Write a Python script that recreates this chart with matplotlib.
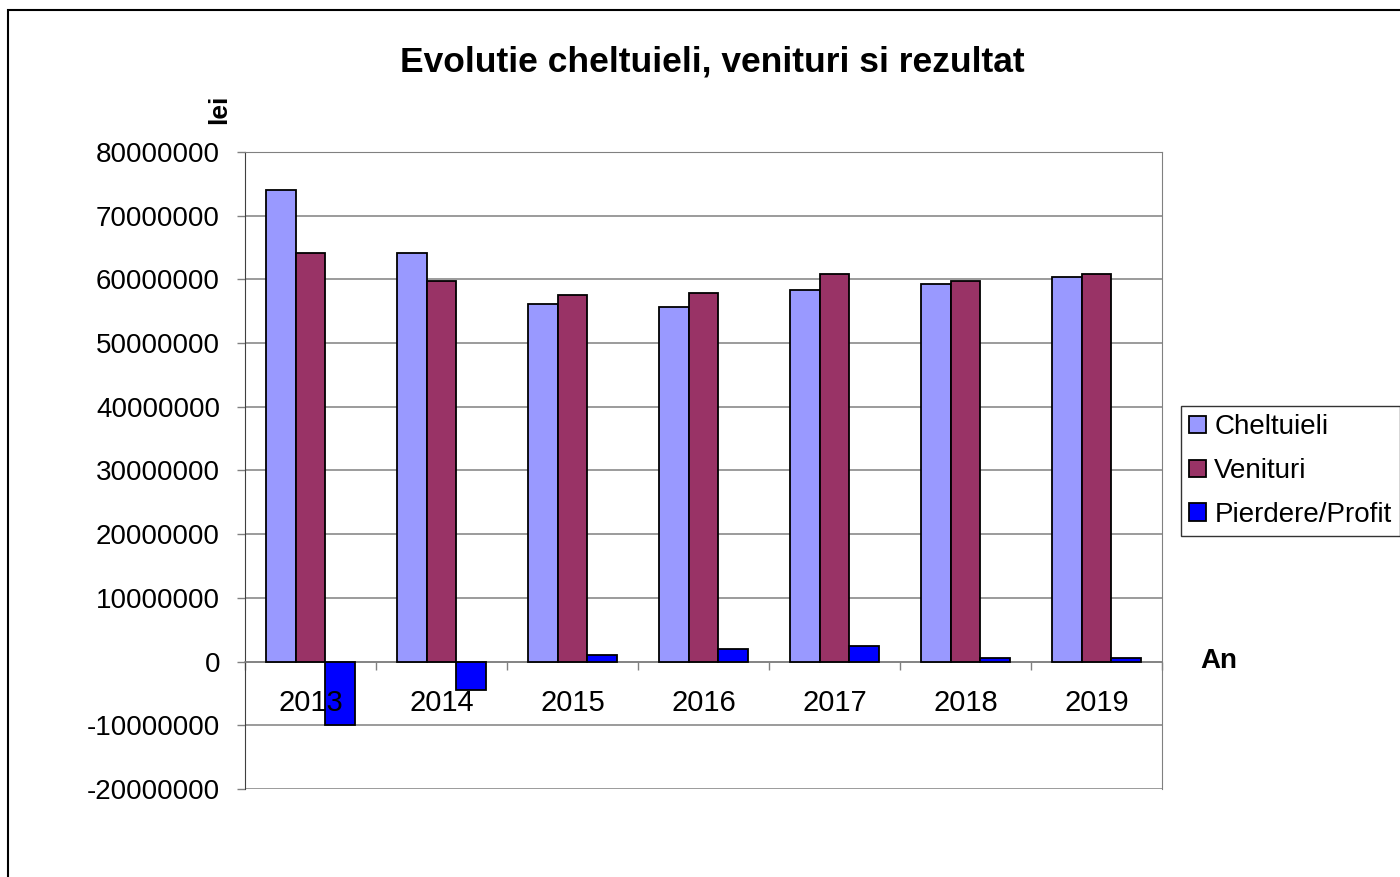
import numpy as np
import matplotlib
matplotlib.use("Agg")
import matplotlib.pyplot as plt
from matplotlib.patches import Rectangle

plt.rcParams['font.family'] = ['Liberation Sans', 'DejaVu Sans']

years = ['2013', '2014', '2015', '2016', '2017', '2018', '2019']
cheltuieli = [74100000, 64200000, 56200000, 55700000, 58400000, 59300000, 60400000]
venituri = [64200000, 59800000, 57600000, 57900000, 60900000, 59800000, 60900000]
profit = [-10000000, -4400000, 1100000, 2000000, 2500000, 600000, 600000]

fig = plt.figure(figsize=(14, 8.77), dpi=100)
ax = fig.add_axes([245 / 1400, 1 - 789 / 877, (1162 - 245) / 1400, (789 - 152) / 877])

x = np.arange(len(years))
w = 0.225
ax.bar(x - w, cheltuieli, w, color='#9999FF', edgecolor='black', linewidth=1.3, label='Cheltuieli', zorder=3)
ax.bar(x, venituri, w, color='#993366', edgecolor='black', linewidth=1.3, label='Venituri', zorder=3)
ax.bar(x + w, profit, w, color='#0000FF', edgecolor='black', linewidth=1.3, label='Pierdere/Profit', zorder=3)

ax.set_xlim(-0.5, 6.5)
ax.set_ylim(-20000000, 80000000)
ax.set_yticks(np.arange(-20000000, 80000001, 10000000))
ax.set_yticklabels([str(v) for v in range(-20000000, 80000001, 10000000)])
ax.yaxis.grid(True, color='#808080', linewidth=1.1, zorder=0)
ax.tick_params(axis='y', labelsize=20, length=6, width=1, color='#808080', pad=12)

# x axis sits on zero, category labels just under it (drawn on top of the bars)
ax.spines['bottom'].set_position(('data', 0))
ax.spines['bottom'].set_color('#808080')
ax.spines['bottom'].set_linewidth(1.1)
ax.set_xticks(np.arange(-0.5, 7, 1))
ax.set_xticklabels([])
ax.tick_params(axis='x', which='major', length=6, width=1, color='#808080')
for xi, yr in zip(x, years):
    ax.annotate(yr, (xi, 0), xytext=(0, -41), textcoords='offset pixels', ha='center', va='center',
                fontsize=21, zorder=5)
ax.spines['left'].set_color('#404040')
ax.spines['right'].set_color('#808080')
ax.spines['top'].set_color('#808080')

fig.text(712 / 1400, 1 - 62 / 877, 'Evolutie cheltuieli, venituri si rezultat', fontsize=25.5,
         fontweight='bold', ha='center', va='center')
fig.text(219 / 1400, 1 - 109 / 877, 'lei', rotation=90, fontsize=19, fontweight='bold',
         ha='center', va='center')
fig.text(1219 / 1400, 1 - 661 / 877, 'An', fontsize=20, fontweight='bold', ha='center', va='center')

leg = fig.legend(loc='upper left', bbox_to_anchor=(1181 / 1400, 1 - 406 / 877), fontsize=20,
                 frameon=True, fancybox=False, edgecolor='black', handlelength=0.6, handleheight=0.6,
                 handletextpad=0.3, borderaxespad=0, labelspacing=0.64, borderpad=0.3)
leg.get_frame().set_linewidth(1)

fig.patches.append(Rectangle((8 / 1400, -0.1), 1.2, 1.1 - 10 / 877, transform=fig.transFigure,
                             fill=False, edgecolor='black', linewidth=1.5))

fig.savefig('out.png', dpi=100)
